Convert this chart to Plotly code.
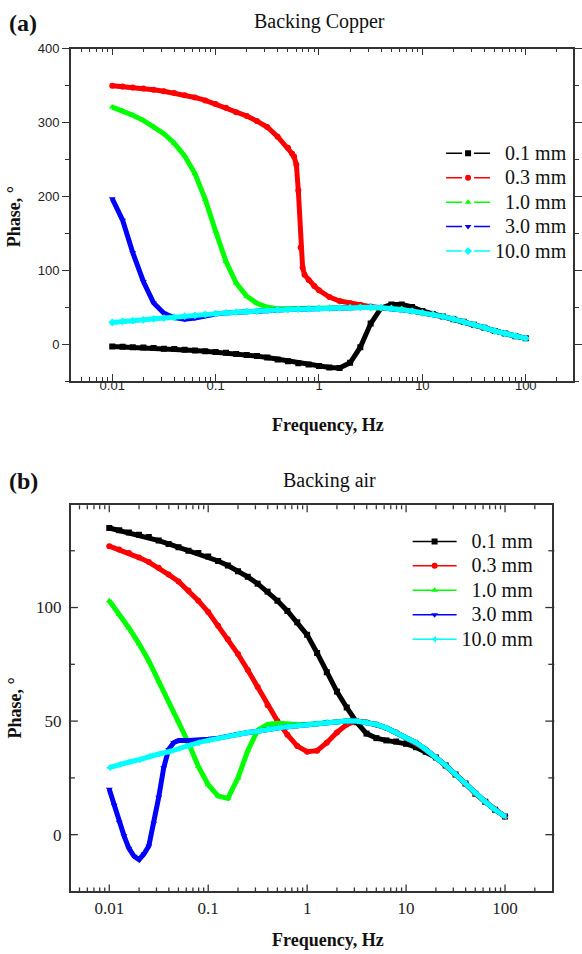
import math
import plotly.graph_objects as go

# Frequency grid (Hz) shared by most curves
FREQ = [0.01, 0.0126, 0.0158, 0.02, 0.0251, 0.0316, 0.0398, 0.0501, 0.0631, 0.0794,
        0.1, 0.126, 0.158, 0.2, 0.251, 0.316, 0.398, 0.501, 0.631, 0.794,
        1, 1.26, 1.58, 2, 2.51, 3.16, 3.98, 5.01, 6.31, 7.94,
        10, 12.6, 15.8, 20, 25.1, 31.6, 39.8, 50.1, 63.1, 79.4, 100]

THICKNESS = ["0.1 mm", "0.3 mm", "1.0 mm", "3.0 mm", "10.0 mm"]

# 10 mm sample: identical for both backings (semi-infinite behaviour)
PHASE_10MM = [29.5, 31, 32, 33, 34.5, 35.5, 36.5, 38, 39, 40.5,
              41.5, 42.5, 43.5, 44.5, 45, 45.5, 46.5, 47, 47.5, 48,
              48.5, 49, 49.5, 49.5, 50, 50, 49.5, 48.5, 47, 45,
              42.5, 40.5, 37.5, 34, 30.5, 26.5, 22.5, 18, 14.5, 11, 8]

# (a) Backing copper
CU_01MM = [-3, -3.5, -4, -4.5, -5, -6, -6.5, -7.5, -8.5, -9.5,
           -10.5, -11.5, -13, -14.5, -16, -18, -20.5, -23, -25.5, -27.5,
           -29.5, -31.5, -32, -25, -4, 28, 49, 54, 54, 50.5,
           45, 41, 37.5, 34, 30.5, 26.5, 22.5, 18, 14.5, 11, 8]

CU_03MM_FREQ = [0.01, 0.0126, 0.0158, 0.02, 0.0251, 0.0316, 0.0398, 0.0501, 0.0631, 0.0794,
                0.1, 0.126, 0.158, 0.2, 0.251, 0.316, 0.398, 0.501, 0.55, 0.574,
                0.604, 0.631, 0.664, 0.694, 0.725, 0.794, 0.9,
                1, 1.26, 1.58, 2, 2.51, 3.16, 3.98, 5.01, 6.31, 7.94,
                10, 12.6, 15.8, 20, 25.1, 31.6, 39.8, 50.1, 63.1, 79.4, 100]
CU_03MM = [350, 349, 347.5, 346, 344.5, 342.5, 340, 337, 334, 330,
           325, 320, 314, 309, 302, 294, 281, 266, 258, 254,
           243, 208, 131, 104, 94, 87, 79,
           73, 64, 58.5, 55.5, 53.5, 51, 49.5, 48.5, 47, 45,
           42.5, 40.5, 37.5, 34, 30.5, 26.5, 22.5, 18, 14.5, 11, 8]

CU_1MM = [321, 316, 310, 303, 295, 285, 272, 255, 231, 196,
          153, 112, 83, 65, 55.5, 50, 48, 48, 48, 48.5,
          48.5, 49, 49.5, 49.5, 50, 50, 49.5, 48.5, 47, 45,
          42.5, 40.5, 37.5, 34, 30.5, 26.5, 22.5, 18, 14.5, 11, 8]

CU_3MM = [197, 168, 124, 85, 56, 42, 36, 34, 35.5, 38.5,
          41, 42.5, 43.5, 44.5, 45, 45.5, 46.5, 47, 47.5, 48,
          48.5, 49, 49.5, 49.5, 50, 50, 49.5, 48.5, 47, 45,
          42.5, 40.5, 37.5, 34, 30.5, 26.5, 22.5, 18, 14.5, 11, 8]

# (b) Backing air
AIR_01MM = [135, 134, 133, 132, 131, 129.5, 128, 126.5, 125, 124,
            122.5, 120.5, 118.5, 116, 113.5, 110.5, 107, 103, 98.5, 93.5,
            88, 80, 71.5, 63, 56, 49.5, 44.5, 42.5, 41.5, 41,
            40, 38.5, 36.5, 34, 30.5, 26.5, 22.5, 18, 14.5, 11, 8]

AIR_03MM = [127, 125.5, 124, 122, 120, 117.5, 114.5, 111.5, 107.5, 103,
            98, 92, 86, 79.5, 72.5, 65, 57, 50, 44, 39,
            36.5, 37, 40.5, 45, 48.5, 50, 49.5, 48.5, 47, 45,
            42.5, 40.5, 37.5, 34, 30.5, 26.5, 22.5, 18, 14.5, 11, 8]

AIR_1MM = [103, 97, 91, 84, 76.5, 67.5, 58.5, 50, 40.5, 30,
           22, 17, 16, 25, 37, 46, 48.5, 49, 48.5, 48.5,
           48.5, 49, 49.5, 49.5, 50, 50, 49.5, 48.5, 47, 45,
           42.5, 40.5, 37.5, 34, 30.5, 26.5, 22.5, 18, 14.5, 11, 8]

AIR_3MM_FREQ = [0.01, 0.0112, 0.0126, 0.0141, 0.0158, 0.0178, 0.02, 0.0224, 0.0251, 0.0282,
                0.0316, 0.0355, 0.0398, 0.0447, 0.0501, 0.0631, 0.0794,
                0.1, 0.126, 0.158, 0.2, 0.251, 0.316, 0.398, 0.501, 0.631, 0.794,
                1, 1.26, 1.58, 2, 2.51, 3.16, 3.98, 5.01, 6.31, 7.94,
                10, 12.6, 15.8, 20, 25.1, 31.6, 39.8, 50.1, 63.1, 79.4, 100]
AIR_3MM = [20, 13, 5.5, -0.5, -6, -9.5, -11, -8.5, -5, 5,
           16.5, 29.5, 37.5, 40.5, 41.5, 41.5, 41.5,
           42, 42.5, 43.5, 44.5, 45, 45.5, 46.5, 47, 47.5, 48,
           48.5, 49, 49.5, 49.5, 50, 50, 49.5, 48.5, 47, 45,
           42.5, 40.5, 37.5, 34, 30.5, 26.5, 22.5, 18, 14.5, 11, 8]

# Axis ticks
MAJOR_FREQ_TICKS = [0.01, 0.1, 1, 10, 100]
MAJOR_FREQ_LABELS = ["0.01", "0.1", "1", "10", "100"]
MINOR_FREQ_TICKS = [round(k * d, 6) for d in (0.001, 0.01, 0.1, 1, 10, 100)
                    for k in range(2, 10) if 0.0045 < k * d < 250]
PHASE_TICKS_A = [0, 100, 200, 300, 400]
PHASE_TICKS_B = [0, 50, 100]
PHASE_MINOR_B = [25, 75, 125]

# Axis ranges (log10 for frequency)
XRANGE_A = [-2.4, 2.457]
YRANGE_A = [-50, 400]
XRANGE_B = [-2.388, 2.478]
YRANGE_B = [-25, 145]

COLORS = ["#000000", "#ff0000", "#00ff00", "#0000ff", "#00ffff"]
SYMBOLS_A = ["square", "circle", "triangle-up", "triangle-down", "diamond"]
SYMBOLS_B = ["square", "circle", "triangle-up", "triangle-down", "triangle-left"]

PANEL_A = [(FREQ, CU_01MM), (CU_03MM_FREQ, CU_03MM), (FREQ, CU_1MM),
           (FREQ, CU_3MM), (FREQ, PHASE_10MM)]
PANEL_B = [(FREQ, AIR_01MM), (FREQ, AIR_03MM), (FREQ, AIR_1MM),
           (AIR_3MM_FREQ, AIR_3MM), (FREQ, PHASE_10MM)]

W, H = 582, 954
SERIF = "Liberation Serif"
SANS = "Liberation Sans"
AXIS_COLOR = "#333333"
NBSP = "\u00a0"


def px_x(p):
    return p / W


def px_y(p):
    return 1 - p / H


fig = go.Figure()


def add_panel(data, symbols, xa, ya, legend_id, dashed):
    for (f, v), name, color, sym in zip(data, THICKNESS, COLORS, symbols):
        fig.add_trace(go.Scatter(
            x=f, y=v, mode="lines+markers", xaxis=xa, yaxis=ya,
            line=dict(color=color, width=5),
            marker=dict(color=color, symbol=sym, size=6, line=dict(width=0)),
            showlegend=False, hoverinfo="skip"))
    # legend keys: thin line with a single marker
    for name, color, sym in zip(THICKNESS, COLORS, symbols):
        pad = "" if name.startswith("10") else NBSP * 2
        fig.add_trace(go.Scatter(
            x=[None], y=[None], mode="lines+markers", xaxis=xa, yaxis=ya,
            name=f"<span style='font-size:20px'>{pad}{name}</span>",
            line=dict(color=color, width=1.5, dash="16px,12px" if dashed else "solid"),
            marker=dict(color=color, symbol=sym, size=6, line=dict(width=0)),
            legend=legend_id, showlegend=True))


add_panel(PANEL_A, SYMBOLS_A, "x", "y", "legend", True)
add_panel(PANEL_B, SYMBOLS_B, "x2", "y2", "legend2", False)

frame = dict(showgrid=False, zeroline=False, showline=True,
             linecolor=AXIS_COLOR, linewidth=1.5, mirror="allticks")

fig.update_layout(
    width=W, height=H, margin=dict(l=0, r=0, t=0, b=0),
    paper_bgcolor="white", plot_bgcolor="white",
    xaxis=dict(domain=[px_x(72), 1.0], range=XRANGE_A, anchor="y", type="log",
               tickmode="array", tickvals=MAJOR_FREQ_TICKS, ticktext=MAJOR_FREQ_LABELS,
               ticks="inside", ticklen=7, tickwidth=1.3, tickcolor=AXIS_COLOR,
               minor=dict(tickmode="array", tickvals=MINOR_FREQ_TICKS, ticks="inside",
                          ticklen=4, tickwidth=1.3, tickcolor=AXIS_COLOR, showgrid=False),
               ticklabelstandoff=-9,
               tickfont=dict(family=SANS, size=13, color="#222"), **frame),
    yaxis=dict(domain=[px_y(377), px_y(42)], range=YRANGE_A, anchor="x",
               tickmode="array", tickvals=PHASE_TICKS_A, ticks="outside", ticklen=7,
               tickwidth=1.3, tickcolor=AXIS_COLOR,
               minor=dict(ticks="outside", ticklen=4, dtick=50, tickcolor=AXIS_COLOR),
               tickfont=dict(family=SANS, size=13, color="#222"), **frame),
    xaxis2=dict(domain=[px_x(72), px_x(561)], range=XRANGE_B, anchor="y2", type="log",
                tickmode="array", tickvals=MAJOR_FREQ_TICKS, ticktext=MAJOR_FREQ_LABELS,
                ticks="", tickfont=dict(family=SERIF, size=17, color="#222"), **frame),
    yaxis2=dict(domain=[px_y(891), px_y(502)], range=YRANGE_B, anchor="x2",
                tickmode="array", tickvals=PHASE_TICKS_B,
                ticktext=[f"{v}{NBSP}" for v in PHASE_TICKS_B], ticks="",
                tickfont=dict(family=SERIF, size=17, color="#222"), **frame),
    legend=dict(x=px_x(448), y=px_y(130), xanchor="left", yanchor="top",
                bgcolor="rgba(0,0,0,0)", font=dict(family=SERIF, size=16.5, color="#111"),
                itemwidth=44, tracegroupgap=0),
    legend2=dict(x=px_x(414), y=px_y(521), xanchor="left", yanchor="top",
                 bgcolor="rgba(0,0,0,0)", font=dict(family=SERIF, size=16.5, color="#111"),
                 itemwidth=44, tracegroupgap=0),
)

# Tick marks of panel (b): drawn on all four sides of the frame, pointing inward
tick_line = dict(color=AXIS_COLOR, width=1.3)
shapes = []
x_marks = [(v, 7) for v in MAJOR_FREQ_TICKS] + [(v, 4) for v in MINOR_FREQ_TICKS]
for v, length in x_marks:
    fx = (math.log10(v) - XRANGE_B[0]) / (XRANGE_B[1] - XRANGE_B[0])
    if not 0 < fx < 1:
        continue
    for anchor, sign in ((0, 1), (1, -1)):
        shapes.append(dict(type="line", xref="x2 domain", yref="y2 domain",
                           x0=fx, x1=fx, ysizemode="pixel", yanchor=anchor,
                           y0=0, y1=sign * length, line=tick_line))
y_marks = [(v, 7) for v in PHASE_TICKS_B] + [(v, 4) for v in PHASE_MINOR_B]
for v, length in y_marks:
    fy = (v - YRANGE_B[0]) / (YRANGE_B[1] - YRANGE_B[0])
    for anchor, sign in ((0, 1), (1, -1)):
        shapes.append(dict(type="line", xref="x2 domain", yref="y2 domain",
                           y0=fy, y1=fy, xsizemode="pixel", xanchor=anchor,
                           x0=-2 * sign, x1=sign * length, line=tick_line))
fig.update_layout(shapes=shapes)

ann = [
    dict(text="<b>(a)</b>", x=px_x(7), y=px_y(16), xanchor="left", yanchor="middle",
         font=dict(family=SERIF, size=24, color="#111")),
    dict(text="Backing Copper", x=px_x(325), y=px_y(15), xanchor="center", yanchor="middle",
         font=dict(family=SERIF, size=20, color="#111")),
    dict(text="<b>Frequency, Hz</b>", x=px_x(333), y=px_y(421), xanchor="center", yanchor="middle",
         font=dict(family=SERIF, size=18, color="#111")),
    dict(text="<b>Phase, °</b>", x=px_x(15), y=px_y(211), xanchor="center", yanchor="middle",
         textangle=-90, font=dict(family=SERIF, size=18, color="#111")),
    dict(text="<b>(b)</b>", x=px_x(7), y=px_y(478), xanchor="left", yanchor="middle",
         font=dict(family=SERIF, size=24, color="#111")),
    dict(text="Backing air", x=px_x(335), y=px_y(477), xanchor="center", yanchor="middle",
         font=dict(family=SERIF, size=20, color="#111")),
    dict(text="<b>Frequency, Hz</b>", x=px_x(333), y=px_y(940), xanchor="center", yanchor="middle",
         font=dict(family=SERIF, size=18, color="#111")),
    dict(text="<b>Phase, °</b>", x=px_x(15), y=px_y(706), xanchor="center", yanchor="middle",
         textangle=-90, font=dict(family=SERIF, size=18, color="#111")),
]
for a in ann:
    a.update(xref="paper", yref="paper", showarrow=False)
fig.update_layout(annotations=ann)

fig.write_html("out.html")
